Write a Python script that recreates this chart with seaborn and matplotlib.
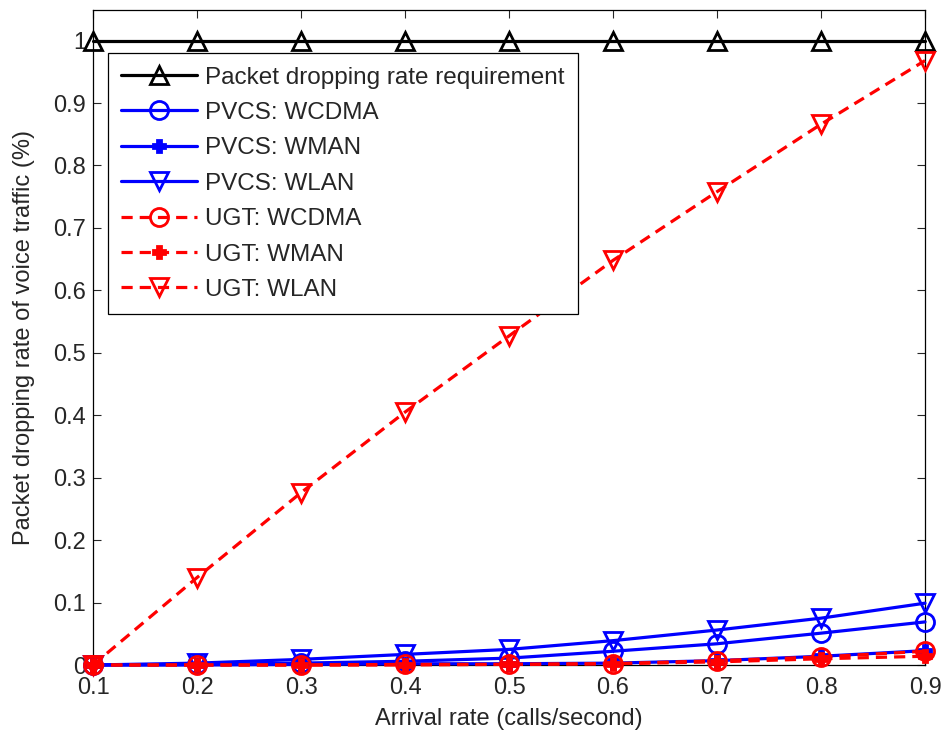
import numpy as np
import pandas as pd
import seaborn as sns
import matplotlib
matplotlib.use("Agg")
import matplotlib.pyplot as plt

# Arrival rate (calls/second)
arrival_rate = [0.1, 0.2, 0.3, 0.4, 0.5, 0.6, 0.7, 0.8, 0.9]

# Packet dropping rate of voice traffic (%)
requirement = [1, 1, 1, 1, 1, 1, 1, 1, 1]
pvcs_wcdma = [0.0, 0.001, 0.003, 0.006, 0.011, 0.022, 0.034, 0.051, 0.069]
pvcs_wman = [0.0, 0.0, 0.001, 0.002, 0.002, 0.003, 0.007, 0.014, 0.023]
pvcs_wlan = [0.0, 0.003, 0.009, 0.017, 0.025, 0.039, 0.056, 0.075, 0.099]
ugt_wcdma = [0.0, 0.0, 0.0, 0.001, 0.001, 0.002, 0.007, 0.013, 0.022]
ugt_wman = [0.0, 0.0, 0.0, 0.0, 0.001, 0.002, 0.005, 0.010, 0.014]
ugt_wlan = [0.0, 0.140, 0.276, 0.405, 0.527, 0.648, 0.758, 0.866, 0.968]

series_names = [
    "Packet dropping rate requirement",
    "PVCS: WCDMA",
    "PVCS: WMAN",
    "PVCS: WLAN",
    "UGT: WCDMA",
    "UGT: WMAN",
    "UGT: WLAN",
]
series_values = [requirement, pvcs_wcdma, pvcs_wman, pvcs_wlan,
                 ugt_wcdma, ugt_wman, ugt_wlan]

styles = {
    "Packet dropping rate requirement": dict(color="black", marker="^", ls="-", fill=False, ms=13),
    "PVCS: WCDMA": dict(color="#0000ff", marker="o", ls="-", fill=False, ms=13),
    "PVCS: WMAN": dict(color="#0000ff", marker="P", ls="-", fill=True, ms=9),
    "PVCS: WLAN": dict(color="#0000ff", marker="v", ls="-", fill=False, ms=13),
    "UGT: WCDMA": dict(color="#ff0000", marker="o", ls="--", fill=False, ms=13),
    "UGT: WMAN": dict(color="#ff0000", marker="P", ls="--", fill=True, ms=9),
    "UGT: WLAN": dict(color="#ff0000", marker="v", ls="--", fill=False, ms=13),
}

df = pd.DataFrame({
    "rate": np.tile(arrival_rate, len(series_names)),
    "value": np.concatenate(series_values),
    "series": np.repeat(series_names, len(arrival_rate)),
})

sns.set_style("white")
plt.rcParams["font.family"] = ["Liberation Sans", "DejaVu Sans"]

fig = plt.figure(figsize=(9.46, 7.36), dpi=100)
ax = fig.add_axes([93 / 946, (736 - 665) / 736, 832 / 946, 655 / 736])

for name in series_names:
    st = styles[name]
    sub = df[df["series"] == name]
    sns.lineplot(
        data=sub, x="rate", y="value", ax=ax, label=name,
        color=st["color"], linewidth=2.3, linestyle=st["ls"],
        marker=st["marker"], markersize=st["ms"],
        markerfacecolor=st["color"] if st["fill"] else "none",
        markeredgecolor=st["color"], markeredgewidth=2.0,
        dashes=False, errorbar=None, estimator=None, sort=False,
        clip_on=False,
    )

for line in ax.get_lines():
    if line.get_linestyle() == "--":
        line.set_dashes((3.5, 2.2))
    line.set_zorder(3)

ax.set_xlim(0.1, 0.9)
ax.set_ylim(0, 1.049)
ax.set_xticks(arrival_rate)
ax.set_xticklabels(["0.1", "0.2", "0.3", "0.4", "0.5", "0.6", "0.7", "0.8", "0.9"])
yt = [0, 0.1, 0.2, 0.3, 0.4, 0.5, 0.6, 0.7, 0.8, 0.9, 1.0]
ax.set_yticks(yt)
ax.set_yticklabels(["0", "0.1", "0.2", "0.3", "0.4", "0.5", "0.6", "0.7", "0.8", "0.9", "1"])
ax.tick_params(direction="in", length=6, width=0.8, labelsize=17,
               top=True, right=True, bottom=True, left=True)
ax.tick_params(axis="x", pad=9)
ax.tick_params(axis="y", pad=5)
for sp in ax.spines.values():
    sp.set_color("black")
    sp.set_linewidth(0.9)

ax.set_xlabel("Arrival rate (calls/second)", fontsize=17, labelpad=6)
ax.set_ylabel("Packet dropping rate of voice traffic (%)", fontsize=17, labelpad=13)

leg = ax.legend(loc="upper left", bbox_to_anchor=(0.018, 0.934), borderaxespad=0,
                fontsize=17.5, frameon=True, fancybox=False, framealpha=1.0,
                handlelength=3.1, handletextpad=0.35, labelspacing=0.55,
                borderpad=0.55)
leg.get_frame().set_edgecolor("black")
leg.get_frame().set_linewidth(0.9)
leg.set_zorder(5)

fig.savefig("out.png", dpi=100, facecolor="white")
